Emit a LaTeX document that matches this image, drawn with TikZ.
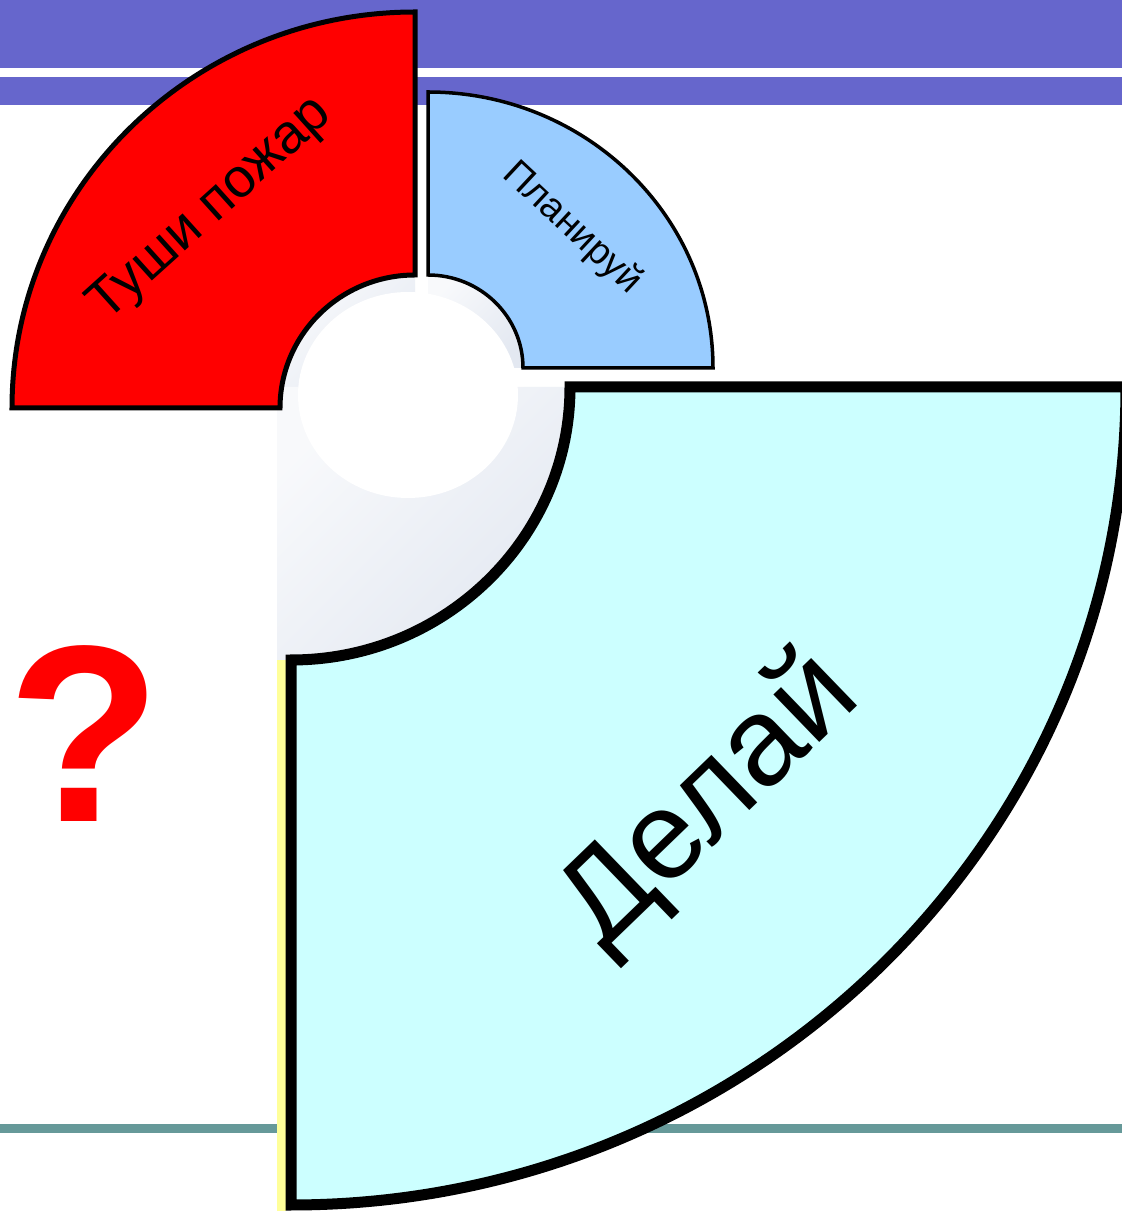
\documentclass[tikz,border=0pt]{standalone}
\usepackage{fontspec}
\setmainfont{Liberation Sans}
\usetikzlibrary{calc}
\definecolor{bandblue}{HTML}{6666CC}
\definecolor{firered}{HTML}{FF0000}
\definecolor{planblue}{HTML}{99CCFF}
\definecolor{doaqua}{HTML}{CCFFFF}
\definecolor{rulegreen}{HTML}{669999}
\definecolor{edgeyellow}{HTML}{FFFF99}
\definecolor{hubgray}{HTML}{E3E8F1}

\begin{document}
\begin{tikzpicture}[x=1pt,y=1pt,
    sector/.style={draw=black,line join=miter},
    hub/.style={top color=hubgray!25,bottom color=hubgray,shading angle=45},
    word/.style={text=black,inner sep=0pt}]
  % page frame
  \clip (0,0) rectangle (1122,1211);
  \fill[white] (0,0) rectangle (1122,1211);

  % title bands and bottom rule
  \fill[bandblue] (0,1143) rectangle (1122,1211);
  \fill[bandblue] (0,1106) rectangle (1122,1134);
  \fill[rulegreen] (0,78) rectangle (1122,87);
  \fill[edgeyellow] (277,0) rectangle (286,551);

  % centres of the three sectors
  \coordinate (cr) at (415,803);
  \coordinate (cb) at (428,843);
  \coordinate (cc) at (291,824);

  % grey hub pieces
  \shade[hub] (cr) -- ++(0,133) arc[start angle=90,end angle=180,x radius=135,y radius=133] -- cycle;
  \shade[hub] (cb) -- ++(95,0) arc[start angle=0,end angle=90,x radius=95,y radius=93] -- cycle;
  \shade[hub] ($(cc)+(-14,0)$) -- ++(293,0) arc[start angle=0,end angle=-90,x radius=279,y radius=273] -- ++(-14,0) -- cycle;
  \fill[white] (408,816) ellipse[x radius=110,y radius=103];

  % red sector
  \draw[sector,fill=firered,line width=5] ($(cr)+(0,133)$) -- ++(0,263)
    arc[start angle=90,end angle=180,x radius=403,y radius=396] -- ++(268,0)
    arc[start angle=180,end angle=90,x radius=135,y radius=133] -- cycle;

  % blue sector
  \draw[sector,fill=planblue,line width=3.5] ($(cb)+(0,93)$) -- ++(0,183)
    arc[start angle=90,end angle=0,x radius=285,y radius=276] -- ++(-190,0)
    arc[start angle=0,end angle=90,x radius=95,y radius=93] -- cycle;

  % big sector
  \draw[sector,fill=doaqua,line width=11] ($(cc)+(279,0)$) -- ++(556,0)
    arc[start angle=0,end angle=-90,x radius=835,y radius=818] -- ++(0,545)
    arc[start angle=-90,end angle=0,x radius=279,y radius=273] -- cycle;

  % labels
  \node[word,rotate=42,font=\fontsize{55}{60}\selectfont] (tushi) at (211,1001) {Туши пожар};
  \node[word,rotate=-43,font=\fontsize{38}{44}\selectfont] (plan) at (572,983) {Планируй};
  \node[word,rotate=44,font=\fontsize{125}{140}\selectfont] (delay) at (710,410) {Делай};
  \node[inner sep=0pt,anchor=base,text=firered,font=\fontsize{252}{252}\selectfont\bfseries] (question) at (84,389) {?};
\end{tikzpicture}
\end{document}
